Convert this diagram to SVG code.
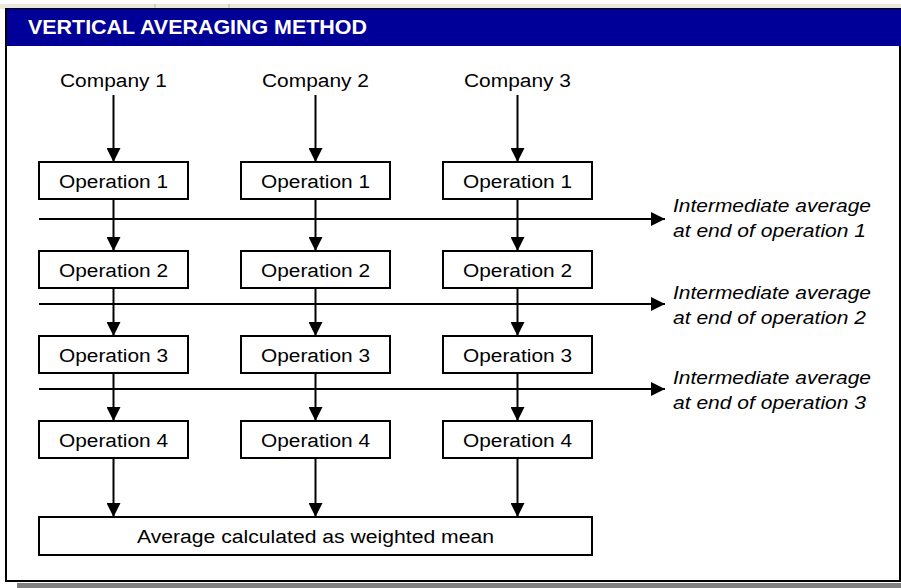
<svg xmlns="http://www.w3.org/2000/svg" width="901" height="588" viewBox="0 0 901 588">
<defs>
<marker id="ah" markerUnits="userSpaceOnUse" markerWidth="14" markerHeight="14" viewBox="0 0 14 14" refX="14" refY="7" orient="auto">
<path d="M0,0 L14,7 L0,14 z" fill="#000"/>
</marker>
</defs>
<style>
.box{fill:#fff;stroke:#000;stroke-width:2}
.lbl{font-family:"Liberation Sans",Arial,sans-serif;font-size:18px;fill:#000}
.it{font-family:"Liberation Sans",Arial,sans-serif;font-size:18.5px;font-style:italic;fill:#000}
.con line{stroke:#000;stroke-width:2;marker-end:url(#ah)}
</style>
<rect x="0" y="0" width="901" height="588" fill="#fff"/>
<rect x="0" y="4" width="901" height="5" fill="#ECE9D8"/>
<line x1="155" y1="4" x2="155" y2="9" stroke="#b8b4a2" stroke-width="1"/>
<line x1="229" y1="4" x2="229" y2="9" stroke="#b8b4a2" stroke-width="1"/>
<rect x="17" y="583" width="884" height="5" fill="#808080"/>
<rect x="6" y="9" width="894" height="572" fill="#fff" stroke="#000" stroke-width="2"/>
<rect x="7" y="9" width="894" height="37" fill="#000099"/>
<text x="28" y="34" font-family="'Liberation Sans',Arial,sans-serif" font-size="19.5" font-weight="bold" fill="#fff" textLength="339" lengthAdjust="spacingAndGlyphs">VERTICAL AVERAGING METHOD</text>

<g id="company1"><text class="lbl" x="113.5" y="87" text-anchor="middle" textLength="107" lengthAdjust="spacingAndGlyphs">Company 1</text></g>
<g id="company2"><text class="lbl" x="315.5" y="87" text-anchor="middle" textLength="107" lengthAdjust="spacingAndGlyphs">Company 2</text></g>
<g id="company3"><text class="lbl" x="517.5" y="87" text-anchor="middle" textLength="107" lengthAdjust="spacingAndGlyphs">Company 3</text></g>

<g id="c1op1"><rect class="box" x="39" y="162" width="149" height="37"/><text class="lbl" x="113.5" y="188" text-anchor="middle" textLength="109" lengthAdjust="spacingAndGlyphs">Operation 1</text></g>
<g id="c2op1"><rect class="box" x="241" y="162" width="149" height="37"/><text class="lbl" x="315.5" y="188" text-anchor="middle" textLength="109" lengthAdjust="spacingAndGlyphs">Operation 1</text></g>
<g id="c3op1"><rect class="box" x="443" y="162" width="149" height="37"/><text class="lbl" x="517.5" y="188" text-anchor="middle" textLength="109" lengthAdjust="spacingAndGlyphs">Operation 1</text></g>

<g id="c1op2"><rect class="box" x="39" y="251" width="149" height="37"/><text class="lbl" x="113.5" y="277" text-anchor="middle" textLength="109" lengthAdjust="spacingAndGlyphs">Operation 2</text></g>
<g id="c2op2"><rect class="box" x="241" y="251" width="149" height="37"/><text class="lbl" x="315.5" y="277" text-anchor="middle" textLength="109" lengthAdjust="spacingAndGlyphs">Operation 2</text></g>
<g id="c3op2"><rect class="box" x="443" y="251" width="149" height="37"/><text class="lbl" x="517.5" y="277" text-anchor="middle" textLength="109" lengthAdjust="spacingAndGlyphs">Operation 2</text></g>

<g id="c1op3"><rect class="box" x="39" y="336" width="149" height="37"/><text class="lbl" x="113.5" y="362" text-anchor="middle" textLength="109" lengthAdjust="spacingAndGlyphs">Operation 3</text></g>
<g id="c2op3"><rect class="box" x="241" y="336" width="149" height="37"/><text class="lbl" x="315.5" y="362" text-anchor="middle" textLength="109" lengthAdjust="spacingAndGlyphs">Operation 3</text></g>
<g id="c3op3"><rect class="box" x="443" y="336" width="149" height="37"/><text class="lbl" x="517.5" y="362" text-anchor="middle" textLength="109" lengthAdjust="spacingAndGlyphs">Operation 3</text></g>

<g id="c1op4"><rect class="box" x="39" y="421" width="149" height="37"/><text class="lbl" x="113.5" y="447" text-anchor="middle" textLength="109" lengthAdjust="spacingAndGlyphs">Operation 4</text></g>
<g id="c2op4"><rect class="box" x="241" y="421" width="149" height="37"/><text class="lbl" x="315.5" y="447" text-anchor="middle" textLength="109" lengthAdjust="spacingAndGlyphs">Operation 4</text></g>
<g id="c3op4"><rect class="box" x="443" y="421" width="149" height="37"/><text class="lbl" x="517.5" y="447" text-anchor="middle" textLength="109" lengthAdjust="spacingAndGlyphs">Operation 4</text></g>

<g id="result"><rect class="box" x="39" y="517" width="553" height="38"/><text class="lbl" x="315.5" y="543" text-anchor="middle" textLength="357" lengthAdjust="spacingAndGlyphs">Average calculated as weighted mean</text></g>

<g id="avg1"><text class="it" x="673" y="212" textLength="198" lengthAdjust="spacingAndGlyphs">Intermediate average</text><text class="it" x="673" y="237" textLength="193" lengthAdjust="spacingAndGlyphs">at end of operation 1</text></g>
<g id="avg2"><text class="it" x="673" y="299" textLength="198" lengthAdjust="spacingAndGlyphs">Intermediate average</text><text class="it" x="673" y="324" textLength="193" lengthAdjust="spacingAndGlyphs">at end of operation 2</text></g>
<g id="avg3"><text class="it" x="673" y="384" textLength="198" lengthAdjust="spacingAndGlyphs">Intermediate average</text><text class="it" x="673" y="409" textLength="193" lengthAdjust="spacingAndGlyphs">at end of operation 3</text></g>

<g id="connectors" class="con">
<line x1="113.5" y1="95" x2="113.5" y2="162"/>
<line x1="315.5" y1="95" x2="315.5" y2="162"/>
<line x1="517.5" y1="95" x2="517.5" y2="162"/>
<line x1="113.5" y1="199" x2="113.5" y2="251"/>
<line x1="315.5" y1="199" x2="315.5" y2="251"/>
<line x1="517.5" y1="199" x2="517.5" y2="251"/>
<line x1="113.5" y1="288" x2="113.5" y2="336"/>
<line x1="315.5" y1="288" x2="315.5" y2="336"/>
<line x1="517.5" y1="288" x2="517.5" y2="336"/>
<line x1="113.5" y1="373" x2="113.5" y2="421"/>
<line x1="315.5" y1="373" x2="315.5" y2="421"/>
<line x1="517.5" y1="373" x2="517.5" y2="421"/>
<line x1="113.5" y1="458" x2="113.5" y2="517"/>
<line x1="315.5" y1="458" x2="315.5" y2="517"/>
<line x1="517.5" y1="458" x2="517.5" y2="517"/>
<line x1="39" y1="219" x2="665" y2="219"/>
<line x1="39" y1="304" x2="665" y2="304"/>
<line x1="39" y1="389" x2="665" y2="389"/>
</g>
</svg>
